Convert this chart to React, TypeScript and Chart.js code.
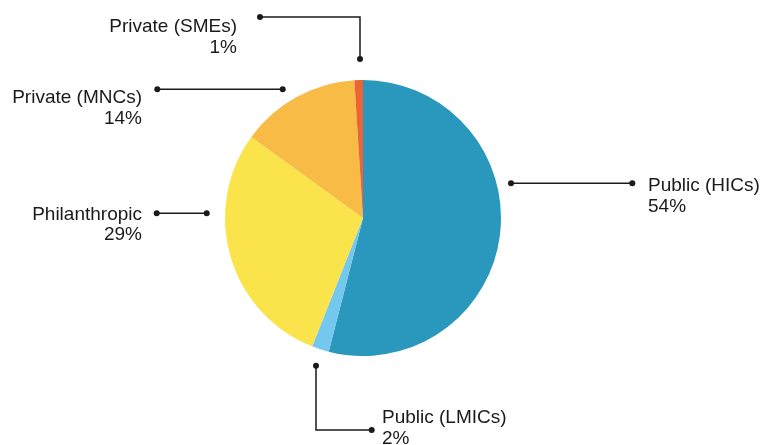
import React, { useEffect, useRef } from "react";
import { Chart, registerables } from "chart.js";

Chart.register(...registerables);

// ---- data ----
const categories = ["Public (HICs)", "Public (LMICs)", "Philanthropic", "Private (MNCs)", "Private (SMEs)"];
const shares = [54, 2, 29, 14, 1];
const shareLabels = ["54%", "2%", "29%", "14%", "1%"];

// ---- styles ----
const sliceColors = ["#2a98bd", "#74c7ed", "#fbe34b", "#f8bb45", "#eb6436"];
const INK = "#1a1a1a";
const FONT = '19px "Liberation Sans", Arial, sans-serif';
const LINE_GAP = 20.5;

// ---- leader layout: offsets from the pie centre (px) ----
type Leader = { path: number[][]; align: CanvasTextAlign; tx: number; ty: number };
const leaderLayout: Leader[] = [
  { path: [[148, -34.7], [269.3, -34.7]], align: "left", tx: 285, ty: -27 },
  { path: [[-47, 147.7], [-47, 212], [8.7, 212]], align: "left", tx: 19, ty: 205 },
  { path: [[-156.3, -4.7], [-206.3, -4.7]], align: "right", tx: -221, ty: 1.5 },
  { path: [[-80.3, -128.7], [-205.7, -128.7]], align: "right", tx: -221, ty: -115 },
  { path: [[-3, -159], [-3, -201], [-103, -201]], align: "right", tx: -126, ty: -186 },
];

const leaderPlugin = {
  id: "leaders",
  afterDatasetsDraw(chart: any) {
    const meta = chart.getDatasetMeta(0);
    const arc = meta.data[0];
    if (!arc) return;
    const cx = arc.x;
    const cy = arc.y;
    const ctx = chart.ctx as CanvasRenderingContext2D;
    ctx.save();
    ctx.strokeStyle = INK;
    ctx.fillStyle = INK;
    ctx.lineWidth = 1.5;
    leaderLayout.forEach((l, i) => {
      ctx.beginPath();
      l.path.forEach((p, j) => {
        const x = cx + p[0];
        const y = cy + p[1];
        if (j === 0) ctx.moveTo(x, y);
        else ctx.lineTo(x, y);
      });
      ctx.stroke();
      [l.path[0], l.path[l.path.length - 1]].forEach((p) => {
        ctx.beginPath();
        ctx.arc(cx + p[0], cy + p[1], 3, 0, Math.PI * 2);
        ctx.fill();
      });
      ctx.font = FONT;
      ctx.textAlign = l.align;
      ctx.textBaseline = "alphabetic";
      ctx.fillText(categories[i], cx + l.tx, cy + l.ty);
      ctx.fillText(shareLabels[i], cx + l.tx, cy + l.ty + LINE_GAP);
    });
    ctx.restore();
  },
};

export default function App() {
  const ref = useRef<HTMLCanvasElement | null>(null);

  useEffect(() => {
    document.body.style.margin = "0";
    if (!ref.current) return;
    const chart = new Chart(ref.current, {
      type: "pie",
      data: {
        labels: categories,
        datasets: [
          {
            data: shares,
            backgroundColor: sliceColors,
            borderWidth: 0,
          },
        ],
      },
      options: {
        responsive: false,
        animation: false,
        layout: { padding: { top: 80, bottom: 89, left: 0, right: 34 } },
        plugins: {
          legend: { display: false },
          tooltip: { enabled: false },
        },
      },
      plugins: [leaderPlugin],
    });
    return () => chart.destroy();
  }, []);

  return (
    <div style={{ width: 760, height: 445, background: "#fff" }}>
      <canvas ref={ref} width={760} height={445} />
    </div>
  );
}
